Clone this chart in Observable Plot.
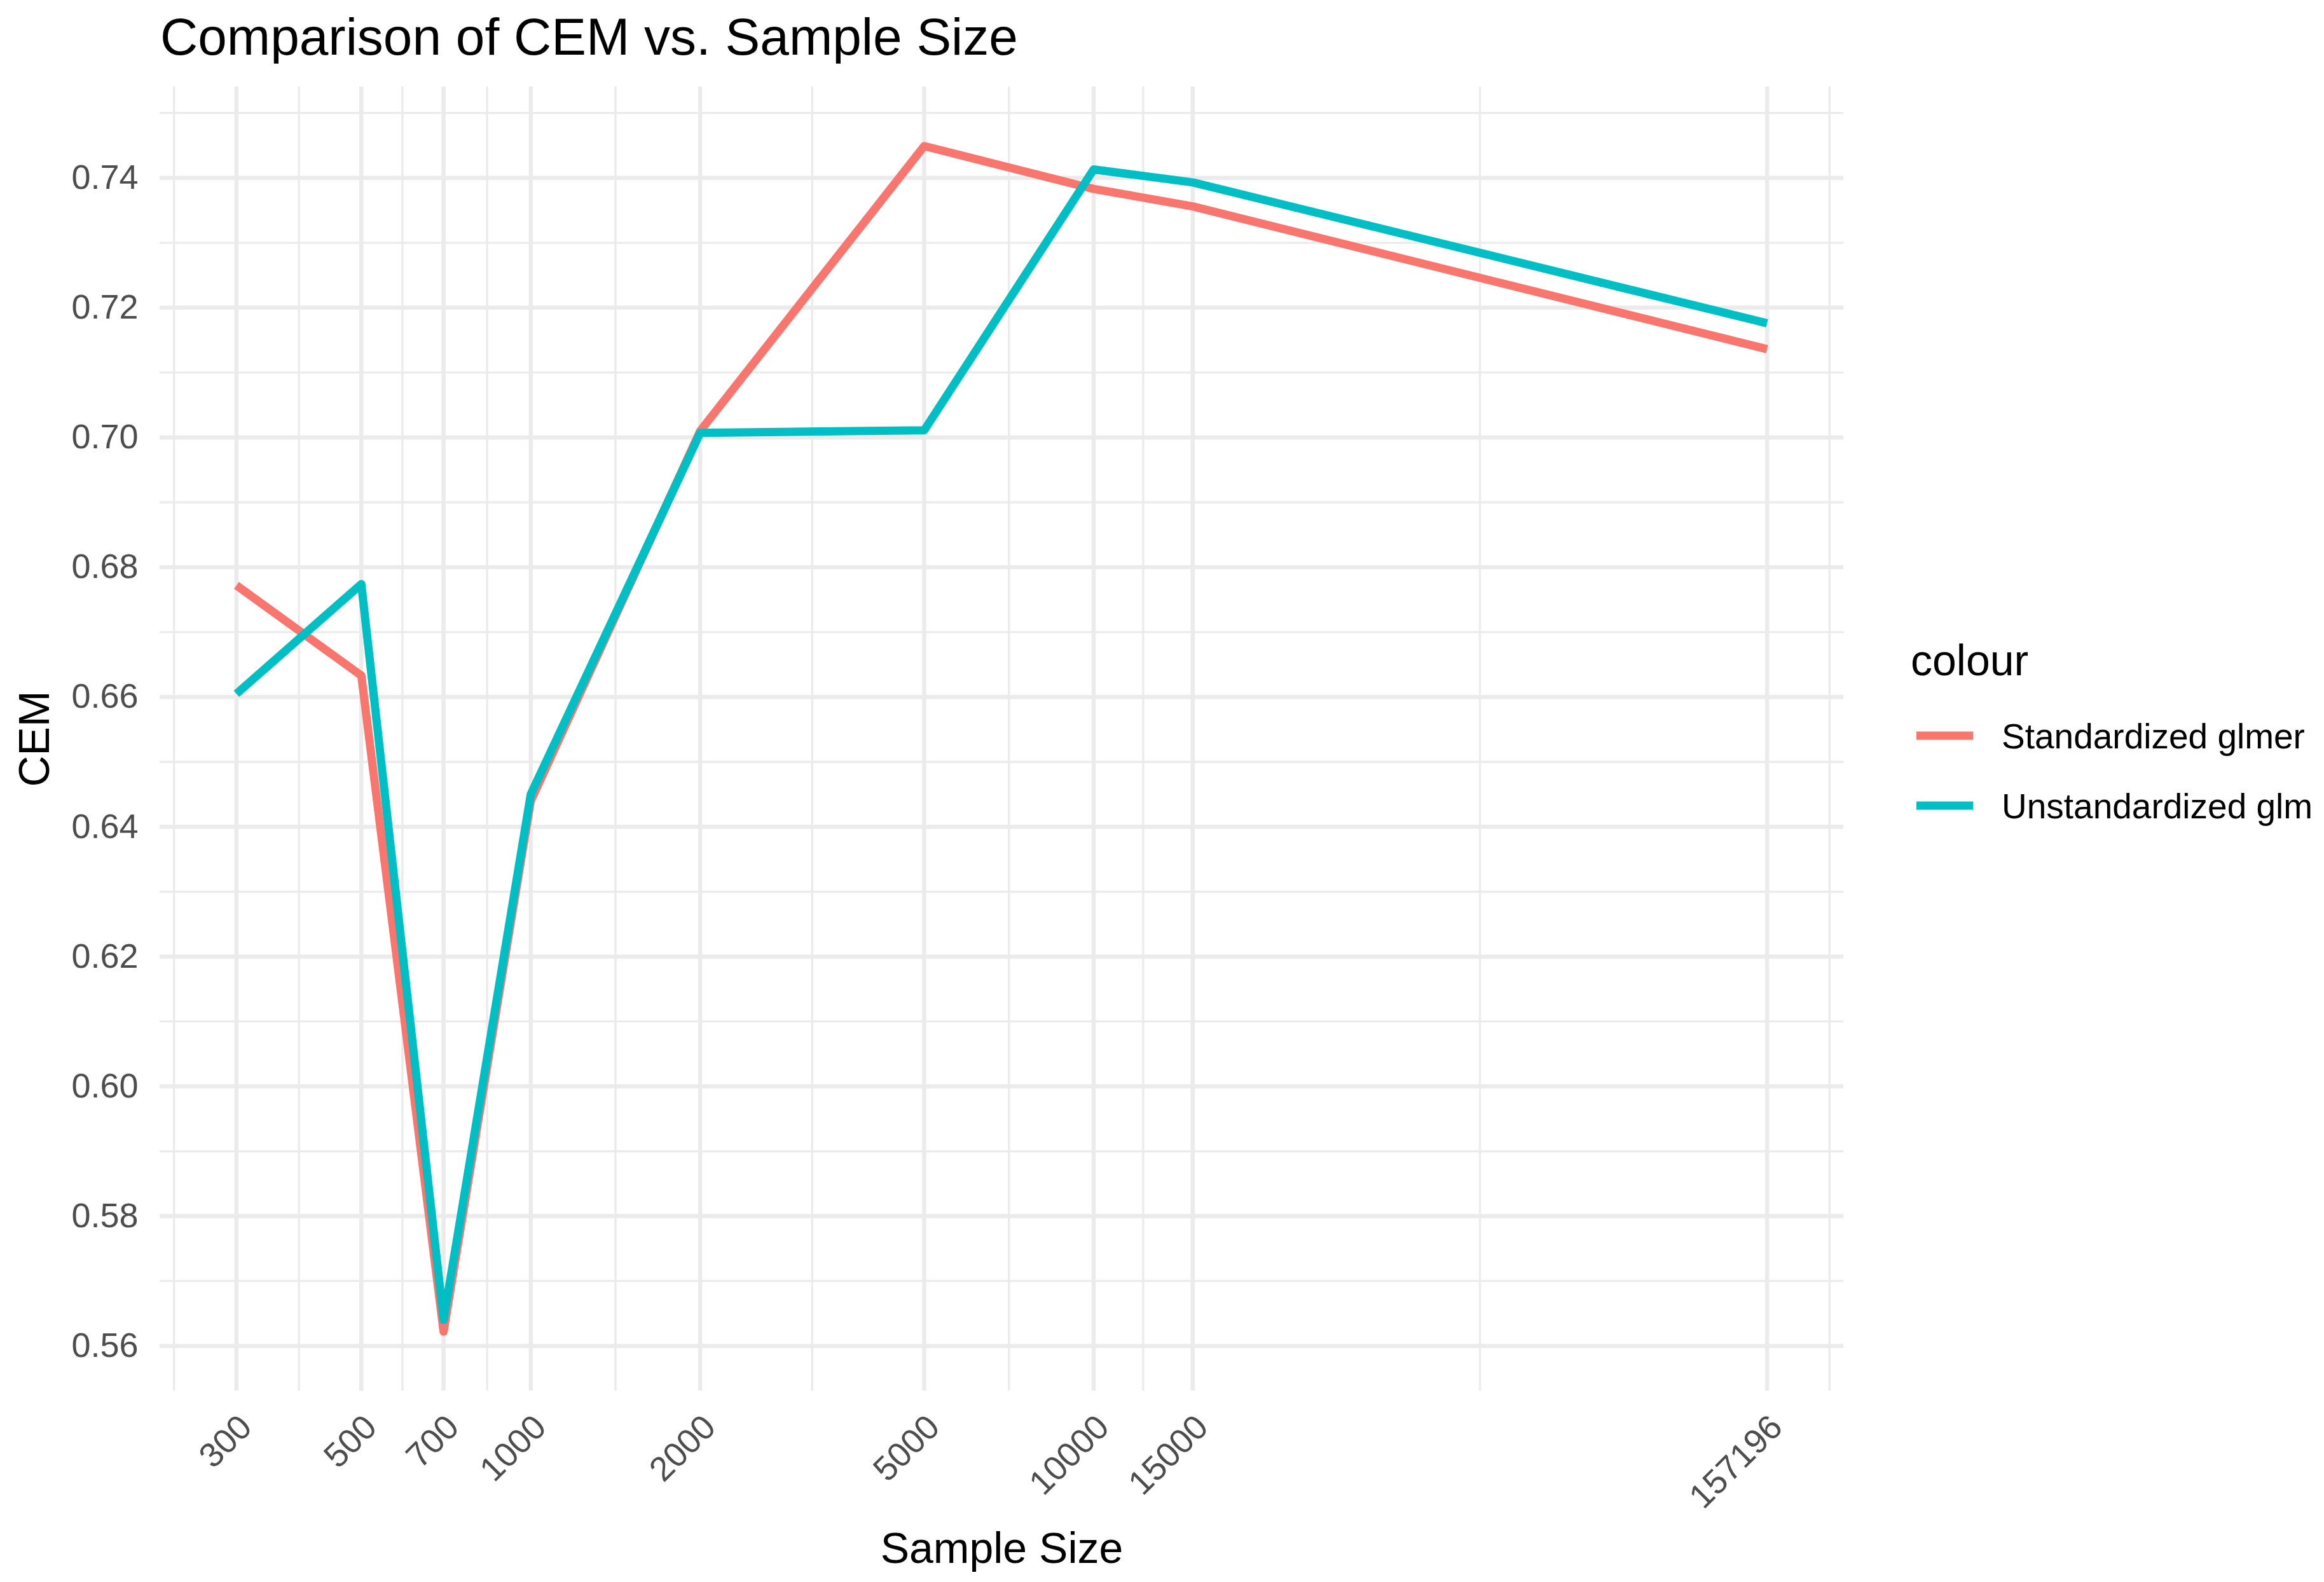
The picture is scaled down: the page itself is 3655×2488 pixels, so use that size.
<!DOCTYPE html>
<html>
<head>
<meta charset="utf-8">
<script src="https://cdn.jsdelivr.net/npm/d3@7"></script>
<script src="https://cdn.jsdelivr.net/npm/@observablehq/plot@0.6"></script>
<style>
  html, body { margin: 0; padding: 0; background: #fff; }
  body { font-family: "Liberation Sans", Arial, Helvetica, sans-serif; }
  #wrap { position: relative; width: 3655px; height: 2488px; overflow: hidden; background: #fff; }
  #title { position: absolute; left: 252px; top: 17px; font-size: 82px; line-height: 82px; color: #000; white-space: nowrap; }
  #chart { position: absolute; left: 0; top: 100px; }
  #legend { position: absolute; left: 2950px; top: 950px; }
</style>
</head>
<body>
<div id="wrap">
  <div id="title">Comparison of CEM vs. Sample Size</div>
  <div id="chart"></div>
  <div id="legend"></div>
</div>
<script>
// ---- data ----
const sampleSizes = [300, 500, 700, 1000, 2000, 5000, 10000, 15000, 157196];
const standardizedGlmer = [0.6772, 0.6633, 0.5622, 0.6440, 0.7010, 0.7449, 0.7383, 0.7356, 0.7136];
const unstandardizedGlm = [0.6605, 0.6774, 0.5640, 0.6450, 0.7007, 0.7011, 0.7413, 0.7393, 0.7176];
const seriesNames = ["Standardized glmer", "Unstandardized glm"];
const seriesColors = ["#F8766D", "#00BFC4"];
const xTickLabels = ["300", "500", "700", "1000", "2000", "5000", "10000", "15000", "157196"];
const yTicks = [0.56, 0.58, 0.60, 0.62, 0.64, 0.66, 0.68, 0.70, 0.72, 0.74];
const xLabel = "Sample Size";
const yLabel = "CEM";
const legendTitle = "colour";

// ---- long table ----
const rows = [];
sampleSizes.forEach((n, i) => rows.push({n, cem: standardizedGlmer[i], series: seriesNames[0]}));
sampleSizes.forEach((n, i) => rows.push({n, cem: unstandardizedGlm[i], series: seriesNames[1]}));
const xTickRows = sampleSizes.map((n, i) => ({n, label: xTickLabels[i]}));

// ---- ggplot-like expanded domains (5%) ----
const lmin = Math.log10(d3.min(sampleSizes)), lmax = Math.log10(d3.max(sampleSizes));
const lpad = 0.05 * (lmax - lmin);
const xDomain = [10 ** (lmin - lpad), 10 ** (lmax + lpad)];
const allY = standardizedGlmer.concat(unstandardizedGlm);
const ymin = d3.min(allY), ymax = d3.max(allY);
const ypad = 0.05 * (ymax - ymin);
const yDomain = [ymin - ypad, ymax + ypad];

// ---- minor breaks (ggplot regular_minor_breaks) ----
const lt = sampleSizes.map(Math.log10);
const bdx = lt[1] - lt[0];
const extX = [lt[0] - bdx, ...lt, lt[lt.length - 1] + bdx];
const xMinor = d3.pairs(extX).map(([a, b]) => 10 ** ((a + b) / 2))
  .filter(v => v >= xDomain[0] && v <= xDomain[1]);
const bdy = yTicks[1] - yTicks[0];
const extY = [yTicks[0] - bdy, ...yTicks, yTicks[yTicks.length - 1] + bdy];
const yMinor = d3.pairs(extY).map(([a, b]) => (a + b) / 2)
  .filter(v => v >= yDomain[0] && v <= yDomain[1]);

const grid = "#EBEBEB";

const chart = Plot.plot({
  width: 3655,
  height: 2388,
  marginLeft: 251,
  marginRight: 756,
  marginTop: 36,
  marginBottom: 301,
  style: { fontFamily: "'Liberation Sans', Arial, Helvetica, sans-serif", fontSize: "54px", color: "#4D4D4D", background: "#fff" },
  x: {
    type: "log", domain: xDomain, ticks: [], tickSize: 0,
    label: xLabel, labelAnchor: "center", labelArrow: "none", labelOffset: 270
  },
  y: {
    domain: yDomain, ticks: yTicks, tickFormat: d3.format(".2f"),
    tickSize: 0, tickPadding: 34,
    label: yLabel, labelAnchor: "center", labelArrow: "none", labelOffset: 223
  },
  color: { domain: seriesNames, range: seriesColors },
  marks: [
    Plot.ruleY(yMinor, { stroke: grid, strokeWidth: 3.3 }),
    Plot.ruleX(xMinor, { stroke: grid, strokeWidth: 3.3 }),
    Plot.ruleY(yTicks, { stroke: grid, strokeWidth: 6.5 }),
    Plot.ruleX(sampleSizes, { stroke: grid, strokeWidth: 6.5 }),
    Plot.line(rows, { x: "n", y: "cem", z: "series", stroke: "series", strokeWidth: 13, strokeLinejoin: "round", strokeLinecap: "butt" }),
    // x tick labels (explicit, so every break is labelled)
    Plot.text(xTickRows, {
      x: "n", text: "label", frameAnchor: "bottom", rotate: -45,
      textAnchor: "end", lineAnchor: "middle", dx: 15, dy: 48,
      fill: "currentColor", clip: false
    })
  ]
});
document.getElementById("chart").appendChild(chart);

// axis titles: larger and black
for (const lab of ["x-axis label", "y-axis label"]) {
  const g = chart.querySelector(`g[aria-label="${lab}"]`);
  if (g) { g.setAttribute("font-size", "68"); g.setAttribute("fill", "#000"); }
}

// ---- legend ----
const lg = d3.select("#legend").append("svg")
  .attr("width", 705).attr("height", 420)
  .style("font-family", "'Liberation Sans', Arial, Helvetica, sans-serif");
lg.append("text").attr("x", 55).attr("y", 112).attr("font-size", 68).attr("fill", "#000").text(legendTitle);
seriesNames.forEach((name, i) => {
  const cy = 207 + i * 110;
  lg.append("line").attr("x1", 64).attr("x2", 153).attr("y1", cy).attr("y2", cy)
    .attr("stroke", seriesColors[i]).attr("stroke-width", 13);
  lg.append("text").attr("x", 198).attr("y", cy + 19.7).attr("font-size", 55).attr("fill", "#000").text(name);
});
</script>
</body>
</html>
